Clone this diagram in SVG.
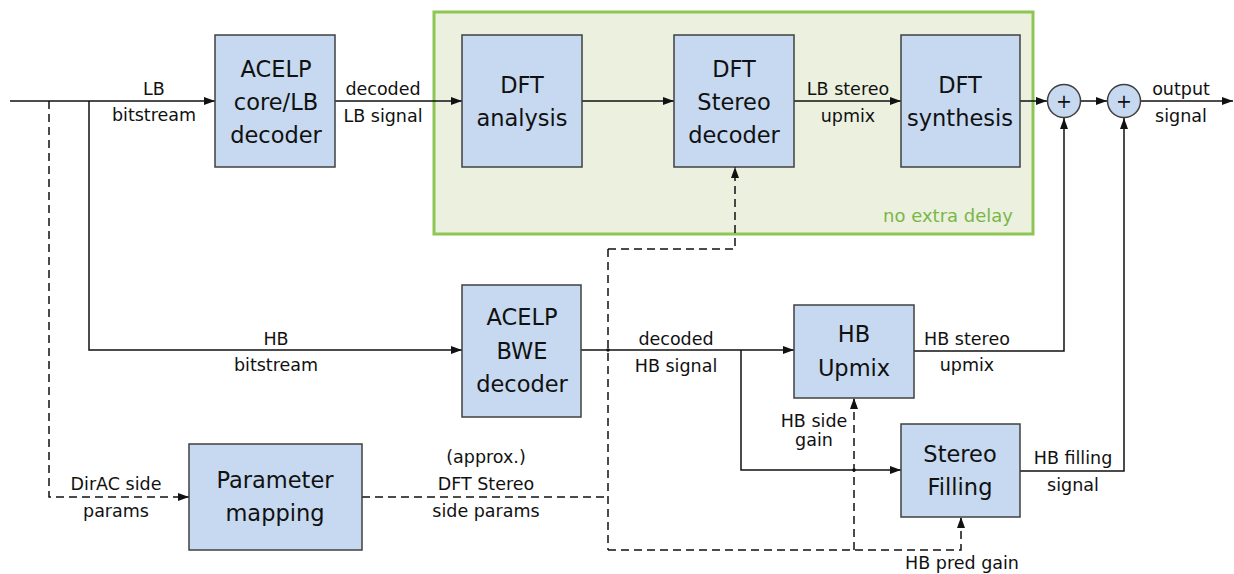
<svg xmlns="http://www.w3.org/2000/svg" width="1234" height="574" viewBox="0 0 1234 574">
<style>
.box{fill:#c6d9f0;stroke:#404040;stroke-width:1.5}
.bt{font-family:"DejaVu Sans",sans-serif;font-size:22.5px;fill:#111;text-anchor:middle}
.lb{font-family:"DejaVu Sans",sans-serif;font-size:17.5px;fill:#111;text-anchor:middle}
.ln{fill:none;stroke:#111;stroke-width:1.5}
.ds{fill:none;stroke:#111;stroke-width:1.5;stroke-dasharray:8 5}
.ar{marker-end:url(#ah)}
</style>
<defs>
<marker id="ah" markerUnits="userSpaceOnUse" markerWidth="12" markerHeight="10" refX="11" refY="5" orient="auto">
<path d="M0,1 L11,5 L0,9 Z" fill="#111"/>
</marker>
</defs>
<rect width="1234" height="574" fill="#fff"/>
<g id="nodelay">
<rect x="434" y="12" width="599" height="222" fill="#ebf1de" stroke="#8dc653" stroke-width="3"/>
<text x="948" y="222" font-family="DejaVu Sans,sans-serif" font-size="18" fill="#7ab648" text-anchor="middle">no extra delay</text>
</g>
<g id="connectors">
<path class="ln ar" d="M10,101 H215"/>
<path class="ln ar" d="M89,101 V350 H462"/>
<path class="ds ar" d="M49,101 V497 H189"/>
<path class="ln ar" d="M335,101 H462"/>
<path class="ln ar" d="M582,101 H674"/>
<path class="ln ar" d="M794,101 H901"/>
<path class="ln ar" d="M1020,101 H1047"/>
<path class="ln ar" d="M1080,101 H1107"/>
<path class="ln ar" d="M1140,101 H1233"/>
<path class="ln ar" d="M914,351 H1064 V118"/>
<path class="ln ar" d="M1020,471 H1124 V118"/>
<path class="ln ar" d="M581,350 H794"/>
<path class="ln ar" d="M741,350 V470 H901"/>
<path class="ds" d="M362,497 H608"/>
<path class="ds" d="M608,249 V550"/>
<path class="ds ar" d="M608,249 H735 V167"/>
<path class="ds ar" d="M608,550 H961 V517"/>
<path class="ds ar" d="M854,550 V398"/>
<circle cx="608" cy="350" r="1.8" fill="#111"/>
<circle cx="854" cy="470" r="1.8" fill="#111"/>
<text class="lb" x="154" y="95">LB</text>
<text class="lb" x="154" y="121">bitstream</text>
<text class="lb" x="383" y="95">decoded</text>
<text class="lb" x="383" y="122">LB signal</text>
<text class="lb" x="848" y="95">LB stereo</text>
<text class="lb" x="848" y="122">upmix</text>
<text class="lb" x="1181" y="95">output</text>
<text class="lb" x="1181" y="122">signal</text>
<text class="lb" x="276" y="345">HB</text>
<text class="lb" x="276" y="371">bitstream</text>
<text class="lb" x="676" y="345">decoded</text>
<text class="lb" x="676" y="372">HB signal</text>
<text class="lb" x="967" y="345">HB stereo</text>
<text class="lb" x="967" y="371">upmix</text>
<text class="lb" x="814" y="427">HB side</text>
<text class="lb" x="814" y="446">gain</text>
<text class="lb" x="1073" y="464">HB filling</text>
<text class="lb" x="1073" y="491">signal</text>
<text class="lb" x="962" y="569">HB pred gain</text>
<text class="lb" x="116" y="490">DirAC side</text>
<text class="lb" x="116" y="517">params</text>
<text class="lb" x="486" y="463">(approx.)</text>
<text class="lb" x="486" y="490">DFT Stereo</text>
<text class="lb" x="486" y="517">side params</text>
</g>
<g id="acelp_core">
<rect class="box" x="215" y="35" width="120" height="132"/>
<text class="bt" x="276" y="77">ACELP</text>
<text class="bt" x="276" y="110">core/LB</text>
<text class="bt" x="276" y="143">decoder</text>
</g>
<g id="dft_analysis">
<rect class="box" x="462" y="35" width="120" height="132"/>
<text class="bt" x="522" y="93">DFT</text>
<text class="bt" x="522" y="126">analysis</text>
</g>
<g id="dft_stereo">
<rect class="box" x="674" y="35" width="120" height="132"/>
<text class="bt" x="734" y="77">DFT</text>
<text class="bt" x="734" y="110">Stereo</text>
<text class="bt" x="734" y="143">decoder</text>
</g>
<g id="dft_synthesis">
<rect class="box" x="901" y="35" width="119" height="132"/>
<text class="bt" x="960" y="93">DFT</text>
<text class="bt" x="960" y="126">synthesis</text>
</g>
<g id="sum1">
<circle class="box" cx="1064" cy="101" r="16.5"/>
<text x="1064" y="108" font-family="DejaVu Sans,sans-serif" font-size="19" text-anchor="middle" fill="#111">+</text>
</g>
<g id="sum2">
<circle class="box" cx="1124" cy="101" r="16.5"/>
<text x="1124" y="108" font-family="DejaVu Sans,sans-serif" font-size="19" text-anchor="middle" fill="#111">+</text>
</g>
<g id="acelp_bwe">
<rect class="box" x="462" y="285" width="119" height="132"/>
<text class="bt" x="522" y="325">ACELP</text>
<text class="bt" x="522" y="359">BWE</text>
<text class="bt" x="522" y="392">decoder</text>
</g>
<g id="param_mapping">
<rect class="box" x="189" y="444" width="173" height="106"/>
<text class="bt" x="275" y="488">Parameter</text>
<text class="bt" x="275" y="521">mapping</text>
</g>
<g id="hb_upmix">
<rect class="box" x="794" y="305" width="120" height="93"/>
<text class="bt" x="854" y="342">HB</text>
<text class="bt" x="854" y="376">Upmix</text>
</g>
<g id="stereo_filling">
<rect class="box" x="901" y="424" width="119" height="93"/>
<text class="bt" x="960" y="462">Stereo</text>
<text class="bt" x="960" y="495">Filling</text>
</g>
</svg>
